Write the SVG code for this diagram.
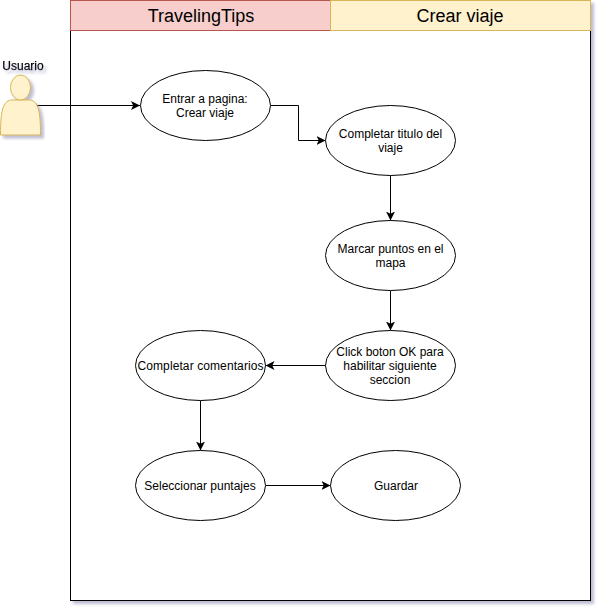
<svg xmlns="http://www.w3.org/2000/svg" width="597" height="615" viewBox="0 0 597 615">
<style>
text{font-family:"Liberation Sans",Arial,sans-serif;fill:#000;text-anchor:middle}
.l{font-size:12px}
.h{font-size:18px}
.e{fill:#fff;stroke:#000;stroke-width:1}
.c{fill:none;stroke:#000;stroke-width:1}
</style>
<defs>
<filter id="sh" x="-10%" y="-10%" width="120%" height="120%"><feDropShadow dx="3" dy="3" stdDeviation="1.6" flood-color="#7d7da8" flood-opacity=".5"/></filter>
<marker id="a" markerUnits="userSpaceOnUse" markerWidth="12" markerHeight="12" refX="9" refY="6" orient="auto"><path d="M0,1.5 L9,6 L0,10.5 L2.2,6 Z" fill="#000"/></marker>
</defs>
<rect width="597" height="615" fill="#fff"/>
<g id="frame" filter="url(#sh)">
<rect x="70.5" y="0.5" width="520" height="600" fill="#fff" stroke="#000"/>
<rect x="70.5" y="0.5" width="260" height="30" fill="#f8cecc" stroke="#b85450"/>
<rect x="330.5" y="0.5" width="260" height="30" fill="#fff2cc" stroke="#d6b656"/>
</g>
<text class="h" x="201" y="22">TravelingTips</text>
<text class="h" x="460" y="22">Crear viaje</text>
<g id="connectors">
<path class="c" d="M36,105.5 H140" marker-end="url(#a)"/>
<path class="c" d="M270.5,105.5 H298.5 V140.5 H325.5" marker-end="url(#a)"/>
<path class="c" d="M390.5,175.5 V220.5" marker-end="url(#a)"/>
<path class="c" d="M390.5,290.5 V330.5" marker-end="url(#a)"/>
<path class="c" d="M325.5,365.5 H265.5" marker-end="url(#a)"/>
<path class="c" d="M200.5,400.5 V450.5" marker-end="url(#a)"/>
<path class="c" d="M265.5,485.5 H330.5" marker-end="url(#a)"/>
</g>
<g id="usuario">
<g filter="url(#sh)">
<path d="M10.5,100 C3,102 0.5,110 0.5,135 H40.5 C40.5,110 38,102 30.5,100 Z" fill="#fff2cc" stroke="#d6b656"/>
<ellipse cx="20.5" cy="87.5" rx="10" ry="12.5" fill="#fff2cc" stroke="#d6b656"/>
</g>
<text x="23" y="70" filter="url(#sh)" style="font-size:12px;stroke:#000;stroke-width:.25">Usuario</text>
</g>
<g id="entrar"><ellipse class="e" cx="205.5" cy="105.5" rx="65" ry="35"/><text class="l" x="205" y="103">Entrar a pagina:</text><text class="l" x="205" y="117">Crear viaje</text></g>
<g id="titulo"><ellipse class="e" cx="390.5" cy="140.5" rx="65" ry="35"/><text class="l" x="390.5" y="138">Completar titulo del</text><text class="l" x="390.5" y="152">viaje</text></g>
<g id="marcar"><ellipse class="e" cx="390.5" cy="255.5" rx="65" ry="35"/><text class="l" x="390.5" y="253">Marcar puntos en el</text><text class="l" x="390.5" y="267">mapa</text></g>
<g id="click"><ellipse class="e" cx="390.5" cy="365.5" rx="65" ry="35"/><text class="l" x="390" y="356">Click boton OK para</text><text class="l" x="390" y="370">habilitar siguiente</text><text class="l" x="390" y="384">seccion</text></g>
<g id="comentarios"><ellipse class="e" cx="200.5" cy="365.5" rx="65" ry="35"/><text class="l" x="200.5" y="370" textLength="126">Completar comentarios</text></g>
<g id="puntajes"><ellipse class="e" cx="200.5" cy="485.5" rx="65" ry="35"/><text class="l" x="200" y="490">Seleccionar puntajes</text></g>
<g id="guardar"><ellipse class="e" cx="395.5" cy="485.5" rx="65" ry="35"/><text class="l" x="396" y="490">Guardar</text></g>
</svg>
